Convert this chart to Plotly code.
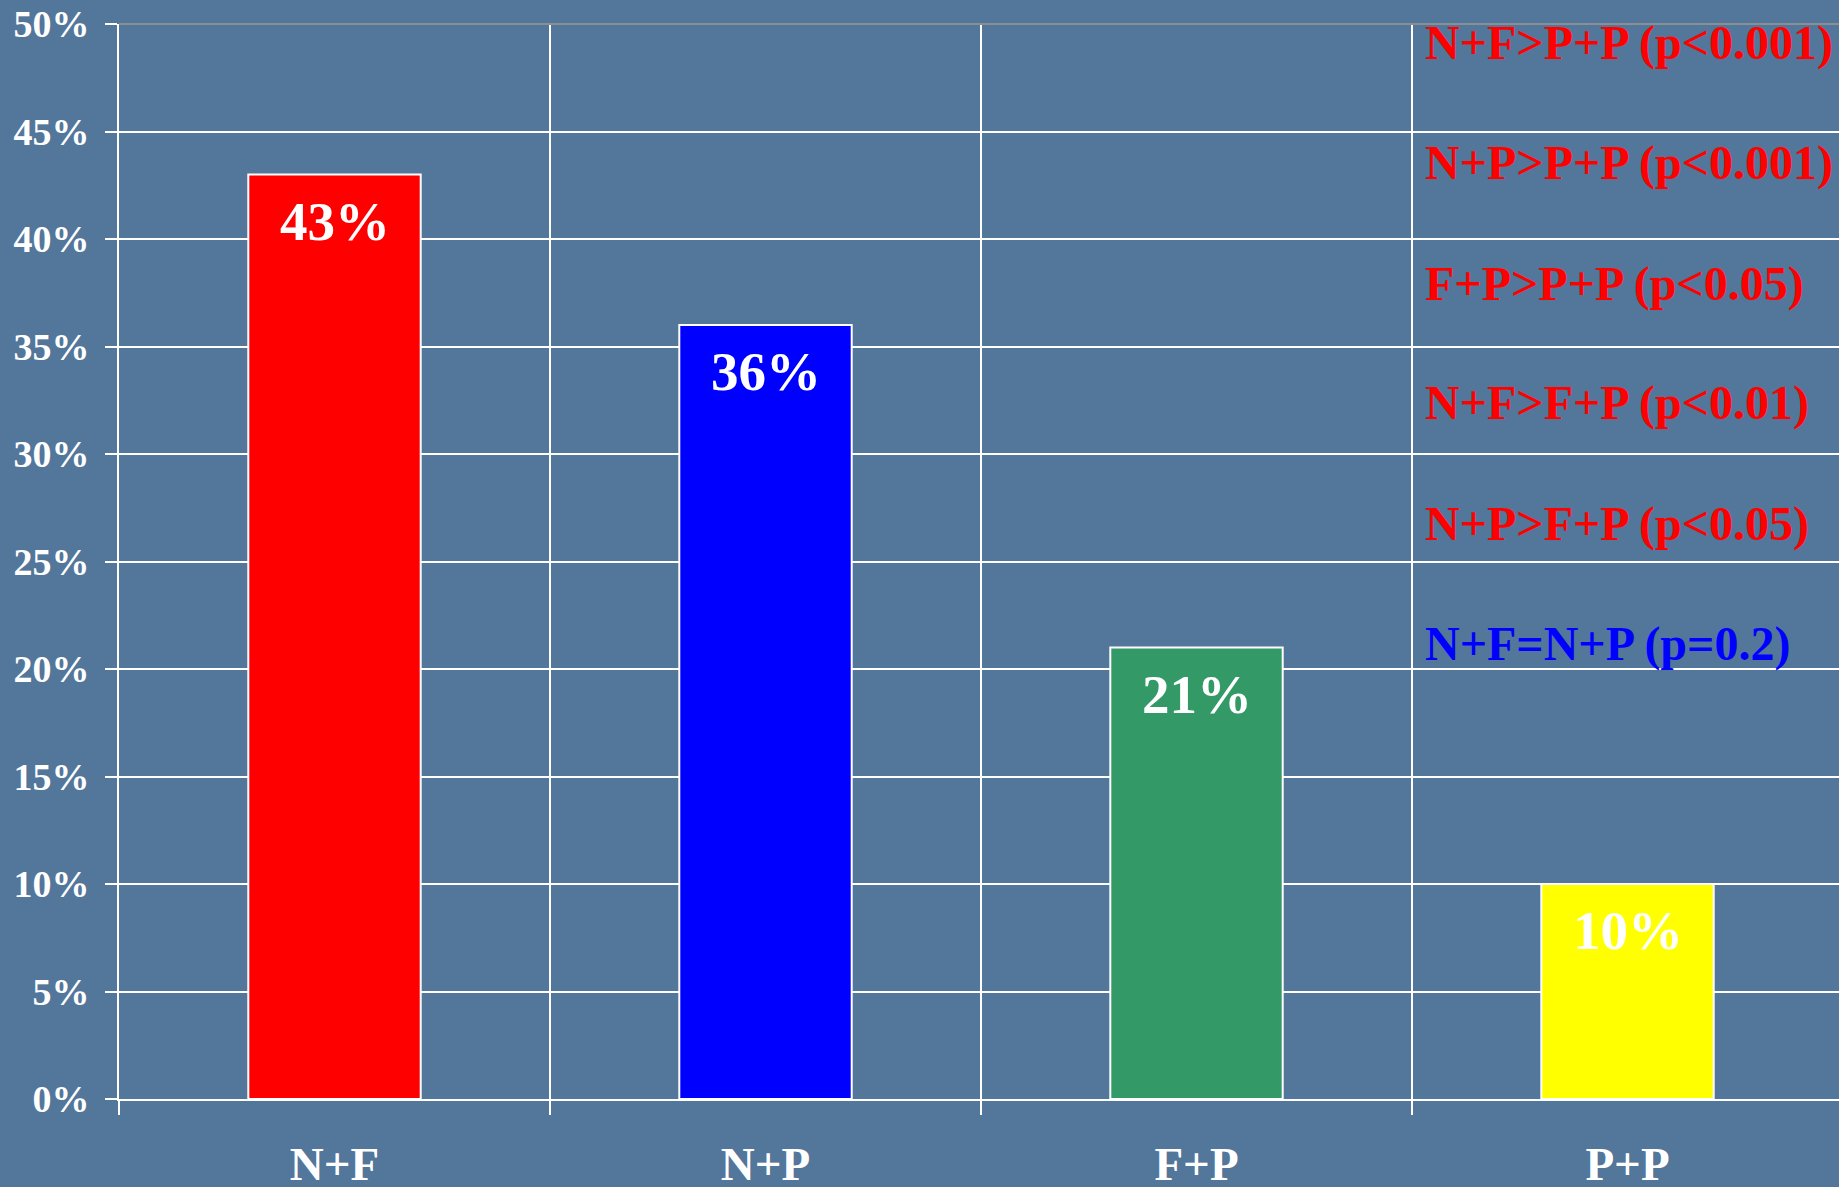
import plotly.graph_objects as go

# ---- data ----
categories = ["N+F", "N+P", "F+P", "P+P"]
values = [43, 36, 21, 10]
bar_colors = ["#FF0000", "#0000FF", "#339966", "#FFFF00"]
value_labels = ["43%", "36%", "21%", "10%"]
stat_labels = [
    "N+F>P+P (p<0.001)",
    "N+P>P+P (p<0.001)",
    "F+P>P+P (p<0.05)",
    "N+F>F+P (p<0.01)",
    "N+P>F+P (p<0.05)",
    "N+F=N+P (p=0.2)",
]
stat_colors = ["#FF0000", "#FF0000", "#FF0000", "#FF0000", "#FF0000", "#0000FF"]
y_ticks = [0, 5, 10, 15, 20, 25, 30, 35, 40, 45, 50]

FONT = "Liberation Serif, Times New Roman, serif"
BG = "#53769b"

W, H = 1839, 1187
ML, MR, MT, MB = 119, 0, 24, 88
plot_w = W - ML - MR
plot_h = H - MT - MB
cat_px = 431.0
x_max = -0.5 + plot_w / cat_px

fig = go.Figure()
fig.add_trace(go.Bar(
    x=list(range(len(categories))),
    y=values,
    width=0.4,
    marker=dict(color=bar_colors, line=dict(color="white", width=2)),
    hoverinfo="skip",
    showlegend=False,
))

# value labels inside bars
for i, (v, t) in enumerate(zip(values, value_labels)):
    fig.add_annotation(
        x=i, y=v, xref="x", yref="y", text="<b>%s</b>" % t,
        showarrow=False, yanchor="top", xanchor="center", yshift=-14,
        font=dict(family=FONT, size=55, color="white"),
    )

# statistics text on the right
line_top_px = 43.5
line_step_px = 120.0
for i, (t, c) in enumerate(zip(stat_labels, stat_colors)):
    py = line_top_px + i * line_step_px
    fig.add_annotation(
        x=(1423 - ML) / plot_w, y=1 - (py - MT) / plot_h,
        xref="paper", yref="paper", text="<b>%s</b>" % t,
        showarrow=False, xanchor="left", yanchor="middle",
        font=dict(family=FONT, size=48, color=c),
    )

# grey top border line
fig.add_shape(type="line", xref="paper", yref="paper", x0=0, x1=1, y0=1, y1=1,
              line=dict(color="#8a8f94", width=2), layer="above")

fig.update_layout(
    width=W, height=H,
    margin=dict(l=ML, r=MR, t=MT, b=MB, pad=0, autoexpand=False),
    paper_bgcolor=BG, plot_bgcolor=BG,
    bargap=0.6,
    xaxis=dict(
        range=[-0.5, x_max], automargin=False,
        tickmode="array", tickvals=list(range(len(categories))), ticktext=["<b>%s</b>" % c for c in categories],
        ticks="", showgrid=False, zeroline=False,
        showline=True, linecolor="white", linewidth=2,
        tickfont=dict(family=FONT, size=47, color="white"),
        ticklabelstandoff=23,
        minor=dict(tickmode="linear", tick0=-0.5, dtick=1, ticks="outside", ticklen=14,
                   tickwidth=2, tickcolor="white", showgrid=True, gridcolor="white", gridwidth=1.5),
    ),
    yaxis=dict(
        range=[0, 50], tickmode="array", tickvals=y_ticks, automargin=False,
        ticktext=["<b>%d%%</b>" % v for v in y_ticks],
        ticks="outside", ticklen=12, tickwidth=2, tickcolor="white",
        showgrid=True, gridcolor="white", gridwidth=1.5, zeroline=False,
        showline=True, linecolor="white", linewidth=2,
        tickfont=dict(family=FONT, size=38, color="white"),
        ticklabelstandoff=8,
    ),
)

fig.write_html(
    "out.html",
    config={"displayModeBar": False},
    post_script="document.body.style.margin='0';document.body.style.overflow='hidden';"
                "document.body.style.background='%s';" % BG,
)
